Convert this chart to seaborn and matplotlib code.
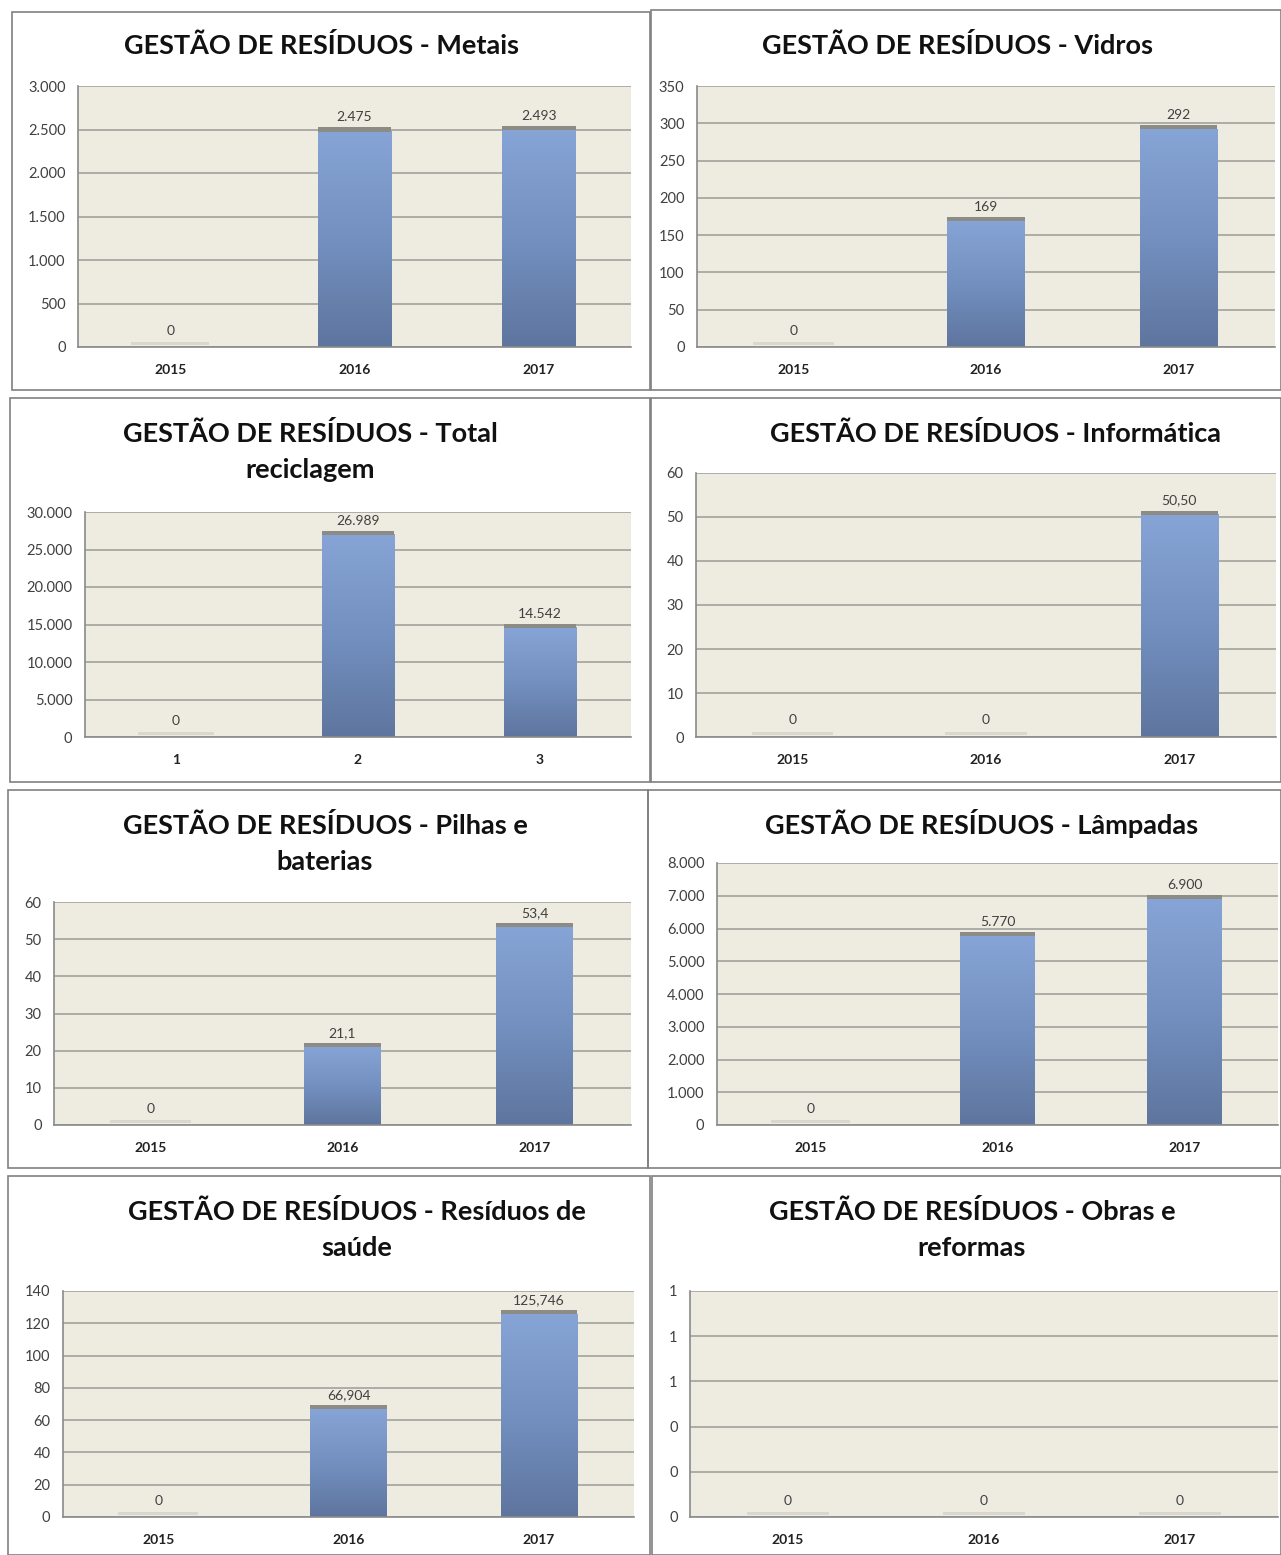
import numpy as np
import matplotlib
matplotlib.use("Agg")
from matplotlib import pyplot as plt
from matplotlib.colors import LinearSegmentedColormap
from matplotlib.patches import Rectangle
import seaborn as sns

# dados
years = ["2015", "2016", "2017"]
idx = ["1", "2", "3"]
metais = [0, 2475, 2493]
vidros = [0, 169, 292]
total_reciclagem = [0, 26989, 14542]
informatica = [0, 0, 50.50]
pilhas = [0, 21.1, 53.4]
lampadas = [0, 5770, 6900]
saude = [0, 66.904, 125.746]
obras = [0, 0, 0]

titles = [
    "GESTÃO DE RESÍDUOS - Metais",
    "GESTÃO DE RESÍDUOS - Vidros",
    "GESTÃO DE RESÍDUOS - Total\nreciclagem",
    "GESTÃO DE RESÍDUOS - Informática",
    "GESTÃO DE RESÍDUOS - Pilhas e\nbaterias",
    "GESTÃO DE RESÍDUOS - Lâmpadas",
    "GESTÃO DE RESÍDUOS - Resíduos de\nsaúde",
    "GESTÃO DE RESÍDUOS - Obras e\nreformas",
]

W, H = 1281, 1555

sns.set_style("white")
plt.rcParams['font.family'] = ['Lato', 'DejaVu Sans']

cmap = LinearSegmentedColormap.from_list("excel", ["#5E759E", "#7390C0", "#87A4D6"])
grad = np.linspace(0, 1, 256).reshape(-1, 1)


def fmt_pt(v, d):
    if v == 0:
        return "0"
    s = f"{v:,.{d}f}"
    return s.replace(",", "X").replace(".", ",").replace("X", ".")


def fig_rect(x1, y1, x2, y2):
    return [x1 / W, 1 - y2 / H, (x2 - x1) / W, (y2 - y1) / H]


def draw_panel(fig, box, axbox, title, tpos, cats, values, ymax, ystep, dec):
    # moldura do gráfico
    fig.add_artist(Rectangle((box[0] / W, 1 - box[3] / H), (box[2] - box[0]) / W,
                             (box[3] - box[1]) / H, transform=fig.transFigure,
                             fill=False, ec="#808080", lw=1.2))
    fig.text(tpos[0] / W, 1 - tpos[1] / H, title, ha="center", va="center",
             fontsize=19.5, fontweight="bold", color="#111111", linespacing=1.6)

    ax = fig.add_axes(fig_rect(*axbox))
    sns.barplot(x=cats, y=values, ax=ax, width=0.4, color="#7A96C8",
                saturation=1, edgecolor="none", zorder=2)
    ax.set_facecolor("#EEECE1")
    ax.set_xlim(-0.5, 2.5)
    ax.set_ylim(0, ymax)
    caph = ymax * 0.016
    for p, v in zip(list(ax.patches), values):
        x0, w, h = p.get_x(), p.get_width(), p.get_height()
        p.set_visible(False)
        if h > 0:
            ax.imshow(grad, extent=(x0, x0 + w, 0, h), origin="lower", cmap=cmap,
                      aspect="auto", zorder=2, interpolation="bicubic")
            ax.add_patch(Rectangle((x0, h), w, caph, fc="#8C8B86", ec="none", zorder=3))
            top = h + caph
        else:
            ax.add_patch(Rectangle((x0 - 0.01, ymax * 0.008), w + 0.02, caph * 0.8,
                                   fc="#DAD8CE", ec="none", zorder=3))
            top = ymax * 0.008 + caph
        ax.annotate(fmt_pt(v, dec), (x0 + w / 2, top), xytext=(0, 3),
                    textcoords="offset points", ha="center", va="bottom",
                    fontsize=10, color="#404040")
    ax.set_xlim(-0.5, 2.5)
    ax.set_ylim(0, ymax)

    ticks = np.arange(0, ymax + ystep / 2, ystep)
    ax.set_yticks(ticks, [f"{t:,.0f}".replace(",", ".") for t in ticks])
    ax.yaxis.grid(True, color="#A8A8A2", lw=1.3)
    ax.set_axisbelow(True)
    ax.set_xticks([0, 1, 2], cats)
    ax.set_xticks([-0.5, 0.5, 1.5, 2.5], minor=True)
    ax.tick_params(axis="x", which="major", length=0, pad=12, labelsize=10,
                   labelcolor="#222222")
    ax.tick_params(axis="x", which="minor", length=5, color="#8A8A8A", width=1)
    ax.tick_params(axis="y", length=4, color="#8A8A8A", labelsize=10.5,
                   labelcolor="#404040", pad=5)
    for lab in ax.get_xticklabels():
        lab.set_fontweight("bold")
    for s in ["top", "right"]:
        ax.spines[s].set_visible(False)
    for s in ["left", "bottom"]:
        ax.spines[s].set_color("#8A8A8A")
        ax.spines[s].set_linewidth(1.2)
    ax.set_xlabel("")
    ax.set_ylabel("")
    return ax


fig = plt.figure(figsize=(W / 100, H / 100), dpi=100)

draw_panel(fig, (12, 12, 650, 390), (78, 86, 631, 347), titles[0], (322, 46),
           years, metais, 3000, 500, 0)
draw_panel(fig, (651, 10, 1281, 390), (697, 86, 1275, 347), titles[1], (957, 46),
           years, vidros, 350, 50, 0)
draw_panel(fig, (10, 398, 650, 782), (85, 512, 631, 737), titles[2], (310, 452),
           idx, total_reciclagem, 30000, 5000, 0)
draw_panel(fig, (651, 398, 1281, 782), (696, 473, 1276, 737), titles[3], (995, 433),
           years, informatica, 60, 10, 2)
draw_panel(fig, (8, 790, 648, 1168), (54, 902, 631, 1125), titles[4], (325, 843),
           years, pilhas, 60, 10, 1)
draw_panel(fig, (648, 790, 1281, 1168), (717, 863, 1278, 1125), titles[5], (982, 824),
           years, lampadas, 8000, 1000, 0)
draw_panel(fig, (8, 1176, 650, 1555), (63, 1291, 634, 1517), titles[6], (357, 1230),
           years, saude, 140, 20, 3)
draw_panel(fig, (652, 1176, 1281, 1555), (690, 1291, 1278, 1517), titles[7], (972, 1230),
           years, obras, 1, 0.2, 0)

plt.savefig("out.png", dpi=100, facecolor="white")
